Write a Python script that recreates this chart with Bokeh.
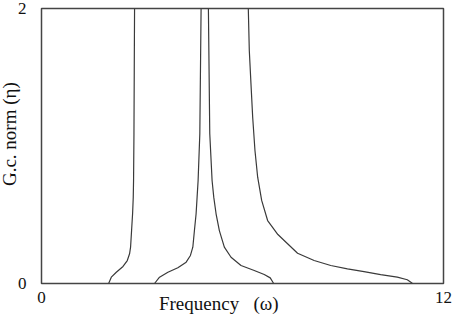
from bokeh.plotting import figure
from bokeh.models import Range1d, FixedTicker
from bokeh.embed import file_html
from bokeh.resources import INLINE

# Curve 1 (lowest band)
w1 = [2.004, 2.084, 2.233, 2.433, 2.561, 2.629, 2.659, 2.689, 2.719, 2.739, 2.748, 2.760, 2.769, 2.778]
g1 = [0.0, 0.046, 0.082, 0.124, 0.167, 0.216, 0.264, 0.385, 0.507, 0.628, 0.749, 1.089, 1.549, 2.0]

# Curve 2 (middle peak, both branches)
w2 = [3.374, 3.523, 3.773, 4.070, 4.318, 4.446, 4.517, 4.565, 4.615, 4.645, 4.675, 4.726, 4.764,
      4.982, 5.023, 5.092, 5.142, 5.211, 5.309, 5.458, 5.658, 5.955, 6.351, 6.649, 6.828, 6.908, 6.929]
g2 = [0.0, 0.046, 0.082, 0.114, 0.155, 0.204, 0.264, 0.385, 0.507, 0.628, 0.749, 1.089, 2.0,
      2.0, 1.089, 0.749, 0.628, 0.507, 0.385, 0.264, 0.191, 0.131, 0.095, 0.065, 0.041, 0.009, 0.0]

# Curve 3 (upper band)
w3 = [6.173, 6.203, 6.253, 6.304, 6.372, 6.453, 6.572, 6.750, 7.057, 7.346, 7.644, 8.138,
      8.635, 9.133, 9.627, 10.124, 10.621, 10.919, 11.068, 11.092]
g3 = [2.0, 1.695, 1.452, 1.209, 0.967, 0.773, 0.604, 0.458, 0.356, 0.289, 0.220, 0.167,
      0.131, 0.107, 0.087, 0.065, 0.046, 0.027, 0.002, 0.0]

x_ticks = [0, 12]
y_ticks = [0, 2]

p = figure(width=458, height=322, output_backend="svg", toolbar_location=None,
           x_range=Range1d(0, 12), y_range=Range1d(0, 2),
           min_border_left=40, min_border_right=10, min_border_top=8, min_border_bottom=39,
           margin=(0, 0, 0, -5))
p.xgrid.visible = False
p.ygrid.visible = False
p.background_fill_color = "white"
p.border_fill_color = "white"
p.outline_line_color = "#444444"
p.outline_line_width = 1.5

for ax in (p.xaxis[0], p.yaxis[0]):
    ax.axis_line_color = None
    ax.major_tick_line_color = None
    ax.minor_tick_line_color = None
    ax.major_label_text_font = "Liberation Serif"
    ax.major_label_text_font_size = "17px"
    ax.major_label_text_color = "#111111"
    ax.axis_label_text_font = "Liberation Serif"
    ax.axis_label_text_font_style = "normal"
    ax.axis_label_text_color = "#111111"
    ax.axis_label_text_font_size = "19px"

p.xaxis.ticker = FixedTicker(ticks=x_ticks)
p.yaxis.ticker = FixedTicker(ticks=y_ticks)
p.xaxis.major_label_standoff = 2
p.yaxis.major_label_standoff = 9
p.xaxis.axis_label = "Frequency\u00a0\u00a0\u00a0(\u03c9)" + "\u00a0" * 10
p.yaxis.axis_label = "\u00a0" * 5 + "G.c. norm\u00a0(\u03b7)"
p.xaxis.axis_label_standoff = -13
p.yaxis.axis_label_standoff = -5

for w, g in ((w1, g1), (w2, g2), (w3, g3)):
    p.line(w, g, line_color="#3a3a3a", line_width=1.2)

open("out.html", "w").write(file_html(p, INLINE))
